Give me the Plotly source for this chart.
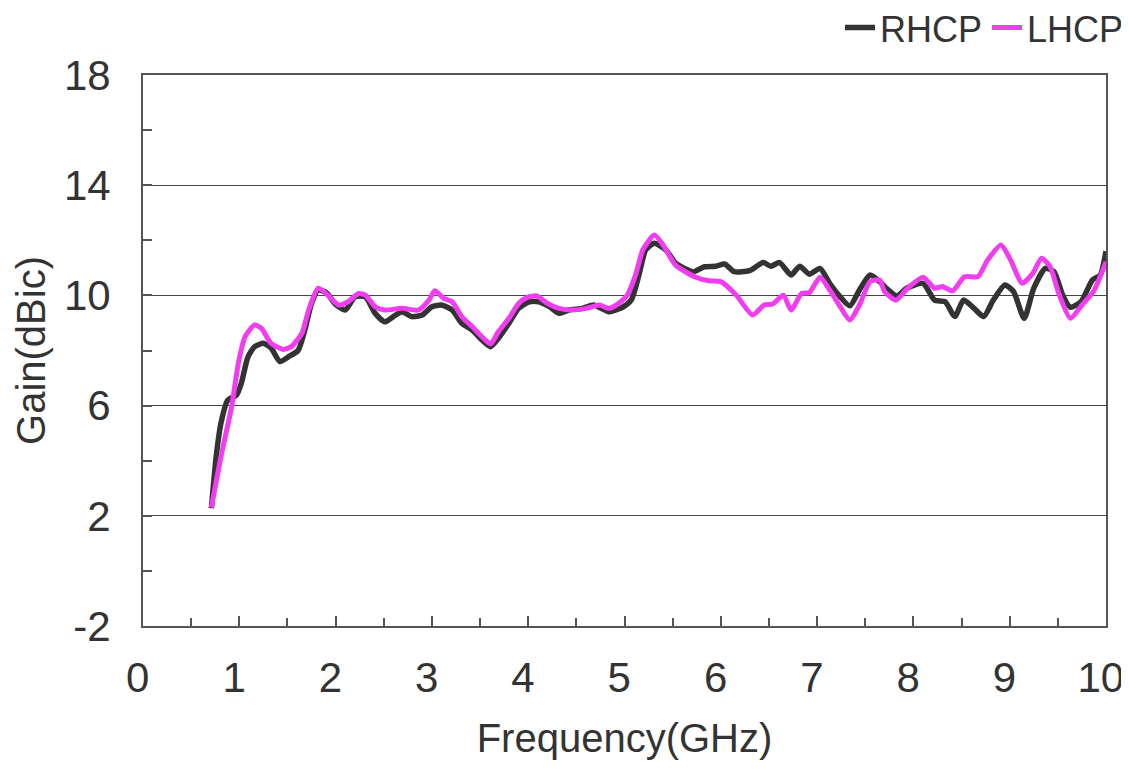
import plotly.graph_objects as go

rhcp_x = [0.71, 0.76, 0.81, 0.88, 0.97, 1.02, 1.09, 1.16, 1.25, 1.33, 1.42, 1.51, 1.61, 1.68, 1.75, 1.82,
          1.91, 1.99, 2.1, 2.2, 2.31, 2.41, 2.51, 2.6, 2.69, 2.79, 2.9, 3.0, 3.1, 3.21, 3.31, 3.42, 3.52,
          3.61, 3.69, 3.8, 3.9, 4.01, 4.11, 4.22, 4.32, 4.42, 4.56, 4.68, 4.84, 4.98, 5.07, 5.15, 5.22,
          5.31, 5.43, 5.53, 5.71, 5.83, 5.95, 6.04, 6.14, 6.3, 6.44, 6.52, 6.61, 6.73, 6.82, 6.92, 7.03,
          7.13, 7.24, 7.34, 7.44, 7.55, 7.65, 7.72, 7.83, 7.93, 8.1, 8.22, 8.33, 8.43, 8.52, 8.63, 8.73,
          8.83, 8.95, 9.04, 9.15, 9.25, 9.37, 9.46, 9.55, 9.63, 9.74, 9.86, 9.94, 10.0]
rhcp_y = [2.27, 4.15, 5.37, 6.2, 6.38, 6.8, 7.77, 8.14, 8.26, 8.09, 7.6, 7.77, 8.0, 8.74, 9.71, 10.2,
          10.08, 9.71, 9.47, 9.95, 9.95, 9.35, 9.04, 9.23, 9.41, 9.23, 9.29, 9.59, 9.65, 9.47, 8.99, 8.74,
          8.38, 8.14, 8.44, 8.99, 9.53, 9.77, 9.77, 9.59, 9.35, 9.47, 9.53, 9.65, 9.41, 9.57, 9.83, 10.74,
          11.65, 11.89, 11.65, 11.17, 10.86, 11.04, 11.06, 11.14, 10.86, 10.9, 11.19, 11.06, 11.19, 10.74,
          11.06, 10.77, 10.98, 10.44, 9.95, 9.62, 10.2, 10.74, 10.5, 10.26, 9.98, 10.26, 10.44, 9.83, 9.77,
          9.23, 9.83, 9.53, 9.23, 9.83, 10.38, 10.14, 9.17, 10.26, 10.98, 10.86, 10.01, 9.57, 9.77, 10.56,
          10.74, 11.6]

lhcp_x = [0.71, 0.81, 0.92, 0.99, 1.06, 1.16, 1.23, 1.33, 1.46, 1.54, 1.65, 1.72, 1.82, 1.92, 2.03, 2.13,
          2.24, 2.31, 2.41, 2.51, 2.69, 2.86, 2.97, 3.03, 3.12, 3.21, 3.31, 3.42, 3.52, 3.61, 3.69, 3.8,
          3.9, 3.99, 4.09, 4.2, 4.32, 4.46, 4.6, 4.74, 4.84, 4.94, 5.03, 5.12, 5.19, 5.31, 5.4, 5.53, 5.74,
          5.88, 6.0, 6.16, 6.33, 6.45, 6.54, 6.65, 6.73, 6.84, 6.92, 7.03, 7.13, 7.24, 7.34, 7.44, 7.55,
          7.65, 7.7, 7.82, 7.94, 8.1, 8.22, 8.3, 8.41, 8.53, 8.67, 8.77, 8.91, 9.01, 9.13, 9.24, 9.33, 9.42,
          9.51, 9.63, 9.75, 9.87, 10.0]
lhcp_y = [2.3, 4.15, 5.96, 7.53, 8.5, 8.93, 8.8, 8.26, 8.04, 8.14, 8.62, 9.47, 10.26, 10.01, 9.65, 9.77,
          10.07, 10.01, 9.59, 9.47, 9.53, 9.47, 9.83, 10.17, 9.9, 9.77, 9.23, 8.86, 8.5, 8.24, 8.68, 9.17,
          9.71, 9.93, 9.98, 9.71, 9.53, 9.47, 9.53, 9.65, 9.53, 9.71, 10.01, 10.8, 11.65, 12.19, 11.83, 11.1,
          10.66, 10.53, 10.5, 10.01, 9.29, 9.65, 9.69, 10.01, 9.47, 10.07, 10.1, 10.66, 10.2, 9.59, 9.11,
          9.65, 10.5, 10.56, 10.14, 9.83, 10.26, 10.66, 10.26, 10.32, 10.17, 10.68, 10.68, 11.28, 11.83,
          11.28, 10.44, 10.8, 11.35, 11.04, 10.07, 9.17, 9.65, 10.14, 11.22]

x_ticks = list(range(0, 11))
y_ticks = [-2, 2, 6, 10, 14, 18]

FONT = "Liberation Sans, Arial, sans-serif"
TXT = "#333333"
AX = "#555555"

fig = go.Figure()
fig.add_trace(go.Scatter(x=rhcp_x, y=rhcp_y, mode="lines", name="RHCP",
                         line=dict(color="#333333", width=5.5, shape="spline", smoothing=0.6)))
fig.add_trace(go.Scatter(x=lhcp_x, y=lhcp_y, mode="lines", name="LHCP",
                         line=dict(color="#f23cf0", width=5, shape="spline", smoothing=0.6)))

fig.update_layout(
    width=1121, height=763,
    margin=dict(l=135, r=23, t=67, b=145, autoexpand=False),
    paper_bgcolor="white", plot_bgcolor="white",
    font=dict(family=FONT, color=TXT, size=40),
    showlegend=True,
    legend=dict(orientation="h", x=1.0, xanchor="right", xref="container",
                y=1.086, yanchor="middle", yref="paper",
                font=dict(size=36, color=TXT), bgcolor="rgba(0,0,0,0)",
                itemwidth=30, tracegroupgap=0),
)
fig.update_xaxes(
    range=[0, 10], tickvals=x_ticks, ticktext=[f"{v}\u2005" for v in x_ticks],
    ticks="inside", ticklen=10, tickwidth=1.5, tickcolor=AX,
    minor=dict(ticks="inside", dtick=0.5, ticklen=8, tickwidth=1.5, tickcolor=AX, showgrid=False),
    showgrid=False, zeroline=False, automargin=False, ticklabeloverflow="allow",
    showline=True, linecolor=AX, linewidth=2, mirror=True,
    tickfont=dict(size=42, color=TXT, family=FONT), ticklabelstandoff=14,
    title=dict(text="Frequency(GHz)", font=dict(size=40, color=TXT, family=FONT), standoff=24),
)
fig.update_yaxes(
    range=[-2, 18], tickvals=y_ticks, ticktext=[str(v) for v in y_ticks],
    ticks="inside", ticklen=9, tickwidth=1.5, tickcolor=AX,
    minor=dict(ticks="inside", dtick=2, tick0=0, ticklen=9, tickwidth=1.5, tickcolor=AX, showgrid=False),
    showgrid=True, gridcolor="#444444", gridwidth=1.2, zeroline=False, automargin=False,
    ticklabeloverflow="allow",
    showline=True, linecolor=AX, linewidth=2, mirror=True,
    tickfont=dict(size=42, color=TXT, family=FONT), ticklabelstandoff=22,
    title=dict(text="Gain(dBic)", font=dict(size=40, color=TXT, family=FONT), standoff=6),
)

fig.write_html("out.html")
